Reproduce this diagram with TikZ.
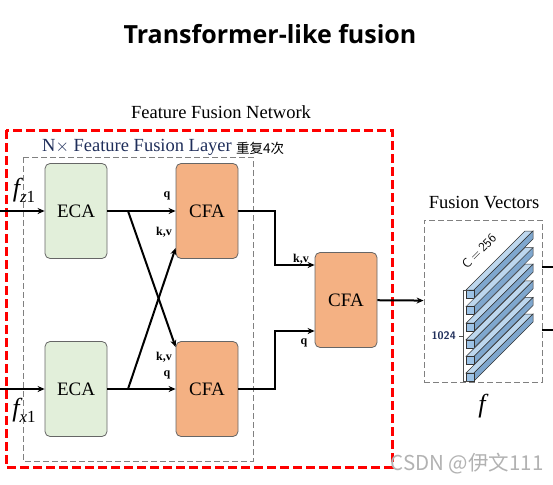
\documentclass[tikz,border=0pt]{standalone}
\usepackage{fontspec}
\setmainfont{Liberation Serif}
\newfontfamily\titlefont{Open Sans}
\newfontfamily\cjk{Noto Sans CJK SC}
\usetikzlibrary{arrows.meta,positioning}

\definecolor{ecagreen}{HTML}{E2EFDA}
\definecolor{cfaorange}{HTML}{F4B183}
\definecolor{barblue}{HTML}{9DC3E6}
\definecolor{bartop}{HTML}{BDD7EE}
\definecolor{barside}{HTML}{7FA7CE}
\definecolor{navy}{HTML}{1F2E5A}

\newcommand{\featsym}[1]{{\itshape f}\raisebox{-6pt}{\fontsize{17}{18}\selectfont #1}}

\begin{document}
\begin{tikzpicture}[
      x=1pt,y=-1pt,
      dep/.style={-{Stealth[length=7pt,width=6pt]},draw=black,line width=2pt},
      wire/.style={draw=black,line width=2pt},
      ecabox/.style={draw=black!60,fill=ecagreen,rounded corners=5pt,line width=.8pt,
        minimum width=62pt,minimum height=95pt,font=\fontsize{19}{21}\selectfont},
      cfabox/.style={draw=black!60,fill=cfaorange,rounded corners=5pt,line width=.8pt,
        minimum width=62pt,minimum height=95pt,font=\fontsize{19}{21}\selectfont},
      port/.style={font=\bfseries\fontsize{12}{13}\selectfont,inner sep=0pt},
      head/.style={font=\fontsize{18.5}{20}\selectfont,inner sep=0pt},
      feat/.style={font=\fontsize{26}{28}\selectfont,inner sep=0pt},
      bar/.style={draw=black!80,line width=.5pt}]
    \useasboundingbox (0,0) rectangle (553,484);

    \node[font=\titlefont\bfseries\fontsize{25}{27}\selectfont] (title) at (270,34) {Transformer-like fusion};

    \draw[red,line width=3pt,dash pattern=on 9pt off 4pt] (6,130) rectangle (392,467);
    \draw[black!50,line width=.8pt,dash pattern=on 6pt off 3pt] (23,157) rectangle (253,461);
    \node[head] (netname) at (221,112) {Feature Fusion Network};
    \node[head,text=navy,anchor=west] (layername) at (42,147) {N$\times$ Feature Fusion Layer};
    \node[font=\cjk\fontsize{13.5}{15}\selectfont,anchor=west,inner sep=0pt] (rep) at (236,148) {重复4次};

    \node[ecabox] (ecaz) at (76,211) {ECA};
    \node[ecabox] (ecax) at (76,389) {ECA};
    \node[cfabox] (cfaz) at (207,211) {CFA};
    \node[cfabox] (cfax) at (207,389) {CFA};
    \node[cfabox] (cfaf) at (346,300) {CFA};

    \coordinate (inz) at (0,211);
    \coordinate (inx) at (0,389);
    \coordinate (bz) at (128,211);
    \coordinate (bx) at (128,389);
    \node[feat] (fz) at (24,190) {\featsym{\itshape z\upshape 1}};
    \node[feat] (fx) at (24,410) {\featsym{\itshape x\upshape 1}};

    \draw[dep] (inz) -- (ecaz);
    \draw[dep] (inx) -- (ecax);
    \draw[dep] (ecaz) -- (cfaz);
    \draw[dep] (ecax) -- (cfax);
    \draw[dep] (bz) -- ([yshift=42pt]cfax.west);
    \draw[dep] (bx) -- ([yshift=-37pt]cfaz.west);
    \draw[dep] (cfaz.east) -- ++(37,0) |- ([yshift=35pt]cfaf.west);
    \draw[dep] (cfax.east) -- ++(37,0) |- ([yshift=-31pt]cfaf.west);

    \node[port] (qz) at (167,196) {q};
    \node[port] (kvz) at (164,232) {k,v};
    \node[port] (kvx) at (164,357) {k,v};
    \node[port] (qx) at (167,375) {q};
    \node[port] (kvf) at (301,259) {k,v};
    \node[port] (qf) at (304,343) {q};

    \node[draw=black!50,line width=.8pt,dash pattern=on 6pt off 3pt,
      minimum width=118pt,minimum height=162pt] (fvbox) at (483,301) {};
    \node[head] (fvname) at (484,203) {Fusion Vectors};
    \draw[dep] (cfaf) -- (fvbox);
    \draw[wire] ([yshift=34pt]fvbox.east) -- ++(12,0);
    \draw[wire] ([yshift=-29pt]fvbox.east) -- ++(12,0);

    \foreach \i in {0,...,5}{
      \pgfmathsetmacro{\yy}{290+16.6*\i}
      \fill[bartop,bar] (466,\yy) -- (474,\yy) -- (533,\yy-59) -- (525,\yy-59) -- cycle;
      \fill[barside,bar] (474,\yy) -- (474,\yy+8) -- (533,\yy-51) -- (533,\yy-59) -- cycle;
      \fill[barblue,bar] (466,\yy) rectangle (474,\yy+8);
    }
    \draw[black!70,line width=.8pt] (469,290) -- (463,290) -- (463,381) -- (469,381);
    \draw[black!70,line width=.8pt] (463,336) -- (459,336);
    \node[font=\sffamily\bfseries\fontsize{11}{12}\selectfont,text=navy,anchor=east,inner sep=0pt] (dimn) at (456,336) {1024};
    \node[font=\sffamily\fontsize{13}{14}\selectfont,rotate=45,inner sep=0pt] (dimc) at (479,251) {C\kern2.5pt=\kern2.5pt256};
    \node[feat] (fout) at (482,406) {\itshape f};

    \node[font=\cjk\fontsize{20.5}{22}\selectfont,text=black!30,inner sep=0pt] (mark) at (467,464) {CSDN @伊文111};
  \end{tikzpicture}
\end{document}
